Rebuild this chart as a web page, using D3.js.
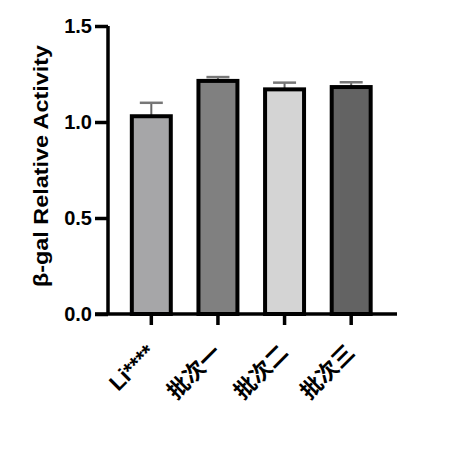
<!DOCTYPE html>
<html>
<head>
<meta charset="utf-8">
<script src="https://cdn.jsdelivr.net/npm/d3@7"></script>
<style>
  body { margin: 0; background: #fff; }
  text { font-family: "Liberation Sans", Arial, "Noto Sans CJK SC", sans-serif; font-weight: bold; }
</style>
</head>
<body>
<div id="chart"></div>
<script>
// data
const groups = ["Li****", "批次一", "批次二", "批次三"];
const means = [1.03, 1.214, 1.17, 1.182];
const errors = [0.07, 0.02, 0.035, 0.025];
const fills = ["#a6a6a8", "#808080", "#d4d4d4", "#636363"];
const yTicks = [0.0, 0.5, 1.0, 1.5];

const W = 450, H = 451;

const svg = d3.select("#chart")
  .append("svg")
  .attr("width", W)
  .attr("height", H);

const x = d3.scaleBand()
  .domain(groups)
  .range([118, 384.5])
  .paddingInner(0.415)
  .paddingOuter(0.2075);

const y = d3.scaleLinear()
  .domain([0, 1.5])
  .range([314, 26]);

// error bars (upper only), drawn first so bars sit on top
const err = svg.append("g");
groups.forEach(function(g, i) {
  const cx = x(g) + x.bandwidth() / 2;
  err.append("line")
    .attr("x1", cx).attr("x2", cx)
    .attr("y1", y(means[i])).attr("y2", y(means[i] + errors[i]))
    .attr("stroke", "#666").attr("stroke-width", 2);
  err.append("line")
    .attr("x1", cx - 11.5).attr("x2", cx + 11.5)
    .attr("y1", y(means[i] + errors[i])).attr("y2", y(means[i] + errors[i]))
    .attr("stroke", "#777").attr("stroke-width", 2.5);
});

// bars
svg.append("g")
  .selectAll("rect")
  .data(groups)
  .enter().append("rect")
  .attr("x", function(d) { return x(d); })
  .attr("y", function(d, i) { return y(means[i]); })
  .attr("width", x.bandwidth())
  .attr("height", function(d, i) { return y(0) - y(means[i]); })
  .attr("fill", function(d, i) { return fills[i]; })
  .attr("stroke", "#000")
  .attr("stroke-width", 4);

// y axis
const yAxis = svg.append("g")
  .attr("transform", "translate(108,0)")
  .call(d3.axisLeft(y).tickValues(yTicks).tickFormat(d3.format(".1f")).tickSize(13).tickPadding(3));
yAxis.select(".domain").attr("stroke-width", 3.5).attr("d", "M0,26V314");
yAxis.selectAll(".tick line").attr("stroke-width", 3.5);
yAxis.selectAll(".tick text").style("font-size", "20px").attr("fill", "#000");

// x axis
const xAxis = svg.append("g")
  .attr("transform", "translate(0,314)")
  .call(d3.axisBottom(x).tickSize(11).tickSizeOuter(0));
xAxis.select(".domain").attr("stroke-width", 3.5).attr("d", "M95,0H397");
xAxis.selectAll(".tick line").attr("stroke-width", 3.5);
xAxis.selectAll(".tick text")
  .style("font-size", "22px")
  .attr("fill", "#000")
  .attr("text-anchor", "end")
  .attr("transform", "translate(5,40) rotate(-45)")
  .attr("y", 0)
  .attr("dy", 0);

// y label
svg.append("text")
  .attr("transform", "translate(48,166) rotate(-90)")
  .attr("text-anchor", "middle")
  .attr("textLength", 242)
  .attr("lengthAdjust", "spacingAndGlyphs")
  .style("font-size", "21px")
  .text("β-gal Relative Activity");
</script>
</body>
</html>
